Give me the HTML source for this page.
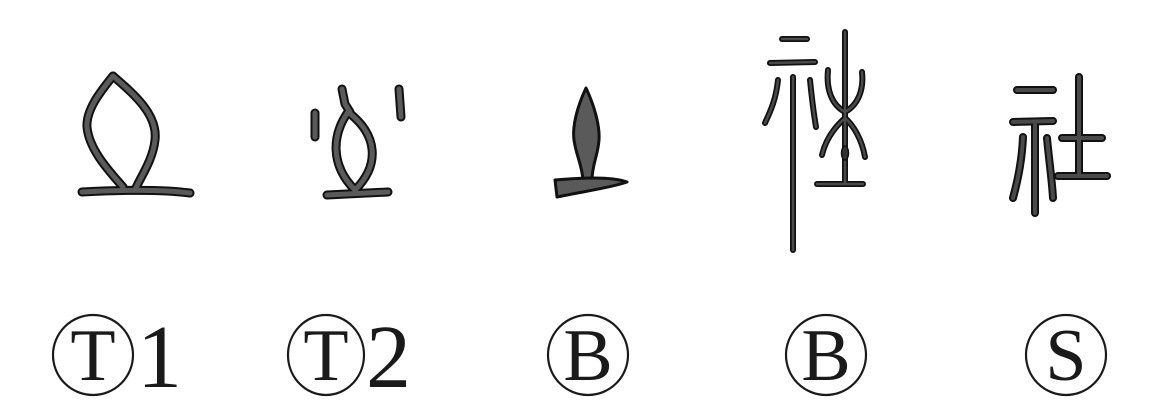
<!DOCTYPE html>
<html><head><meta charset="utf-8"><style>
html,body{margin:0;padding:0;background:#fff;}
#wrap{width:1149px;height:417px;position:relative;overflow:hidden;}
text{font-family:"Liberation Serif",serif;fill:#1a1a1a;}
</style></head><body>
<div id="wrap">
<svg width="1149" height="417" style="position:absolute;left:0;top:0">
 <defs>
  <g id="g1">
   <path d="M113,76 C100,92 86,110 87,127 C89,150 110,172 123,187"/>
   <path d="M113,76 C135,95 158,115 155,140 C153,160 140,178 136,188"/>
   <path d="M82,192 C120,190 160,189 190,193"/>
  </g>
  <g id="g2">
   <path d="M348,112 C332,135 330,165 355,190 C380,165 378,135 348,112 Z"/>
   <path d="M315,113 L315,137"/>
   <path d="M342,89 L345,104 L350,112"/>
   <path d="M399,89 L401,117"/>
   <path d="M327,195 L388,192"/>
  </g>
  <g id="g4">
   <path d="M782,39 L807,39"/>
   <path d="M770,63 L815,62"/>
   <path d="M793,77 L793,250"/>
   <path d="M778,80 C776,100 770,112 765,123"/>
   <path d="M810,80 C812,100 814,115 816,127"/>
   <path d="M845,32 L845,183"/>
   <path d="M828,70 C826,90 832,105 845,112 C858,105 864,90 862,72"/>
   <path d="M822,155 C826,138 836,126 845,118 C854,126 862,140 865,157"/>
   <path d="M817,184 L863,184"/>
  </g>
  <g id="g5">
   <path d="M1017,90 L1053,90"/>
   <path d="M1013,122 L1053,121"/>
   <path d="M1035,124 L1035,213"/>
   <path d="M1023,137 C1022,160 1018,180 1013,198"/>
   <path d="M1047,138 C1049,160 1052,180 1053,198"/>
   <path d="M1079,77 L1079,175"/>
   <path d="M1062,138 L1102,138"/>
   <path d="M1058,176 L1107,176"/>
  </g>
 </defs>
 <g fill="none" stroke-linecap="round" stroke-linejoin="round">
  <g>
   <use href="#g1" stroke="#111" stroke-width="9"/>
   <use href="#g1" stroke="#5a5a5a" stroke-width="5"/>
  </g>
  <g>
   <use href="#g2" stroke="#111" stroke-width="9"/>
   <use href="#g2" stroke="#5a5a5a" stroke-width="5"/>
  </g>
  <g>
   <path d="M586,88 C578,105 572,125 574,140 C576,155 582,165 583,180 L592,180 C592,165 598,155 599,140 C600,125 594,105 586,88 Z" fill="#5a5a5a" stroke="#111" stroke-width="3"/>
   <path d="M555,180 C580,178 610,176 627,182 C610,188 580,192 557,197 Z" fill="#5a5a5a" stroke="#111" stroke-width="3"/>
  </g>
  <g>
   <use href="#g4" stroke="#111" stroke-width="6"/>
   <use href="#g4" stroke="#4a4a4a" stroke-width="2.5"/>
   <ellipse cx="845" cy="153" rx="3.5" ry="7" fill="#333" stroke="#111" stroke-width="1.5"/>
  </g>
  <g>
   <use href="#g5" stroke="#111" stroke-width="8"/>
   <use href="#g5" stroke="#4a4a4a" stroke-width="4"/>
  </g>
 </g>
 <g fill="none" stroke="#1a1a1a" stroke-width="2.2">
  <ellipse cx="93" cy="355" rx="40" ry="40"/>
  <ellipse cx="326" cy="355" rx="38" ry="40"/>
  <ellipse cx="588" cy="355" rx="40" ry="40"/>
  <ellipse cx="826" cy="355" rx="40" ry="40"/>
  <ellipse cx="1066" cy="355" rx="40" ry="40"/>
 </g>
 <g font-size="74" text-anchor="middle">
  <text x="93" y="380">T</text>
  <text x="326" y="380">T</text>
  <text x="588" y="380">B</text>
  <text x="826" y="380">B</text>
  <text x="1066" y="380">S</text>
 </g>
 <g font-size="90">
  <text x="137" y="387">1</text>
  <text x="366" y="387">2</text>
 </g>
</svg>
</div>
</body></html>
